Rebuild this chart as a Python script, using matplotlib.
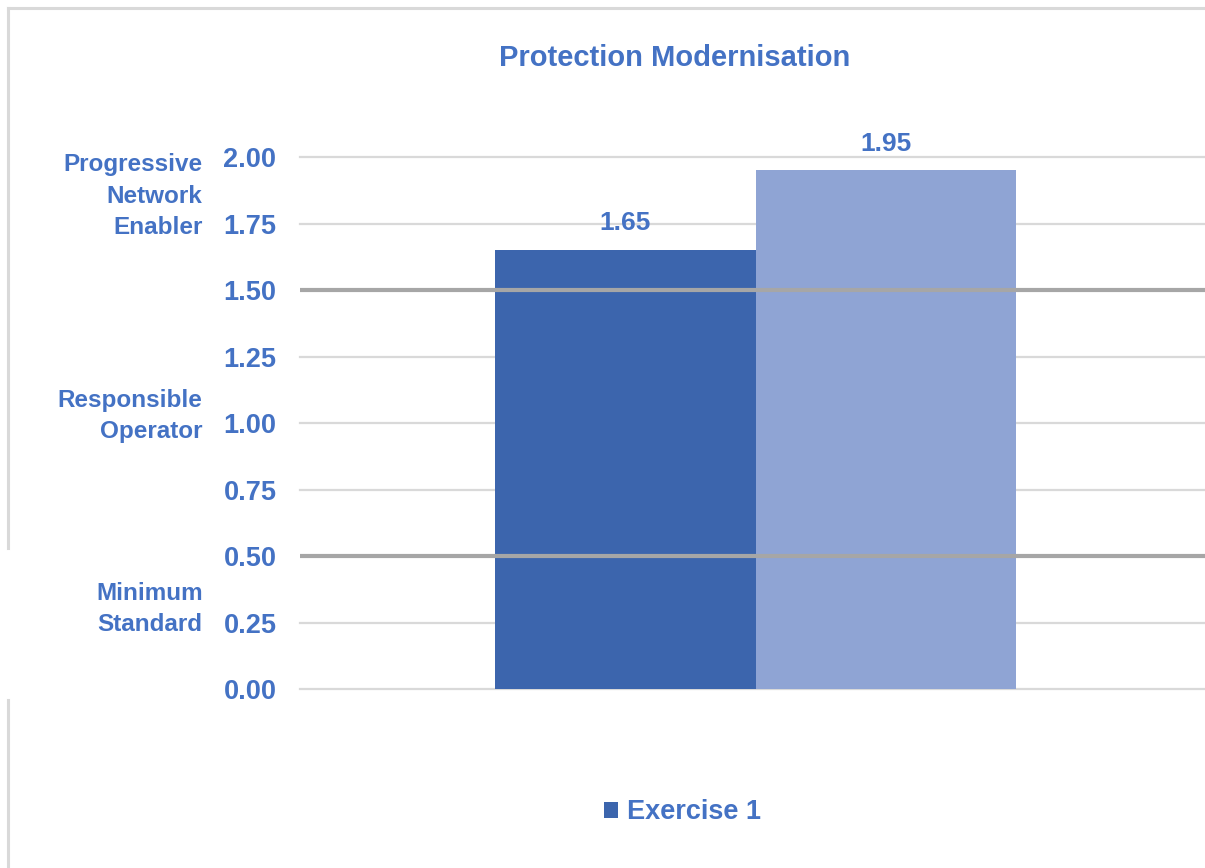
import matplotlib.pyplot as plt
from matplotlib.lines import Line2D

plt.switch_backend('Agg')
plt.rcParams['font.family'] = ['Liberation Sans', 'DejaVu Sans']
plt.rcParams['font.weight'] = 'bold'

# data
series_names = ["Exercise 1", "Exercise 2"]
scores = [1.65, 1.95]
bar_colors = ["#3C65AD", "#8FA4D4"]
y_ticks = [0.00, 0.25, 0.50, 0.75, 1.00, 1.25, 1.50, 1.75, 2.00]
band_lines = [0.5, 1.5]
level_labels = ["Progressive\nNetwork\nEnabler", "Responsible\nOperator", "Minimum\nStandard"]
level_positions = [1.853, 1.026, 0.30]

text_color = "#4472C4"
grid_color = "#D9D9D9"
band_color = "#A6A6A6"

fig = plt.figure(figsize=(12.05, 8.68), dpi=100)
ax = fig.add_axes([0.249, 0.2062, 0.756, 0.6129])

bars = ax.bar(range(len(scores)), scores, width=1.0, color=bar_colors, zorder=2)
for i, v in enumerate(scores):
    ax.text(i, v + 0.055, f"{v:.2f}", ha='center', va='bottom',
            fontsize=19, fontweight='bold', color=text_color)

ax.set_xlim(-1.25, 2.25)
ax.set_ylim(0, 2.0)
ax.set_yticks(y_ticks)
ax.set_yticklabels([f"{t:.2f}" for t in y_ticks])
ax.tick_params(axis='y', length=0, pad=17, labelsize=19.5, labelcolor=text_color)
ax.set_xticks([])
for s in ax.spines.values():
    s.set_visible(False)

for t in y_ticks:
    if t not in band_lines:
        ax.axhline(t, color=grid_color, lw=1.6, zorder=1, clip_on=False)
for b in band_lines:
    ax.axhline(b, color=band_color, lw=3, zorder=3)

# maturity level labels on the left
for lab, pos in zip(level_labels, level_positions):
    ax.text(-0.107, pos, lab, transform=ax.get_yaxis_transform(), ha='right',
            va='center', fontsize=17.5, fontweight='bold', color=text_color,
            linespacing=1.47, multialignment='right')

fig.text(0.560, 0.933, "Protection Modernisation", ha='center', va='center',
         fontsize=21, fontweight='bold', color=text_color)

leg = ax.legend(handles=[bars[0]], labels=[series_names[0]], loc='center',
                bbox_to_anchor=(0.566, 0.064), bbox_transform=fig.transFigure,
                frameon=False, handlelength=0.55, handleheight=0.55,
                handletextpad=0.3, prop={'size': 19.5, 'weight': 'bold'})
for t in leg.get_texts():
    t.set_color(text_color)

# outer frame (partly hidden on the left)
x0 = 8 / 1205
y0 = 1 - 8 / 868
fig.add_artist(Line2D([x0, 1], [y0, y0], color=grid_color, lw=2.2, transform=fig.transFigure))
fig.add_artist(Line2D([x0, x0], [y0, 1 - 548 / 868], color=grid_color, lw=2.2, transform=fig.transFigure))
fig.add_artist(Line2D([x0, x0], [1 - 700 / 868, 0], color=grid_color, lw=2.2, transform=fig.transFigure))

plt.savefig("out.png", dpi=100)
plt.close()
